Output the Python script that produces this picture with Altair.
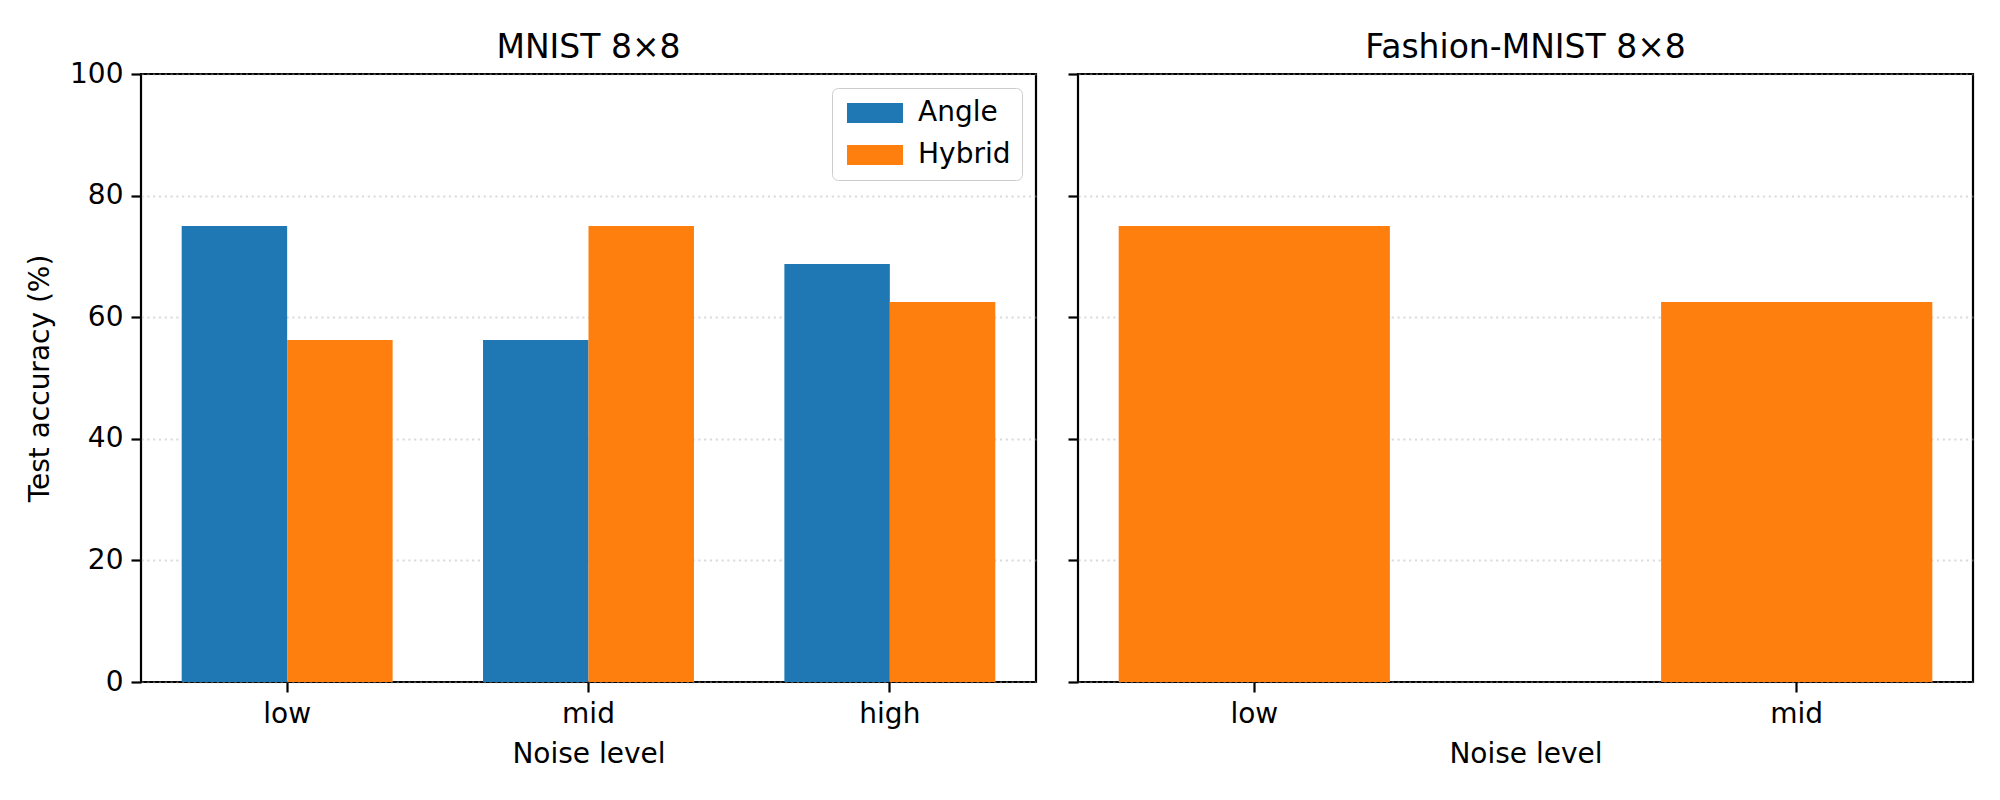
import altair as alt
import pandas as pd

# ---- data ----
levels_mnist = ["low", "mid", "high"]
angle_mnist = [75.0, 56.25, 68.75]
hybrid_mnist = [56.25, 75.0, 62.5]

levels_fashion = ["low", "mid"]
hybrid_fashion = [75.0, 62.5]

series = ["Angle", "Hybrid"]
series_colors = ["#1f77b4", "#ff7f0e"]
y_ticks = [0, 20, 40, 60, 80, 100]

df_m = pd.DataFrame({
    "level": levels_mnist * 2,
    "method": ["Angle"] * len(levels_mnist) + ["Hybrid"] * len(levels_mnist),
    "acc": angle_mnist + hybrid_mnist,
})
df_f = pd.DataFrame({
    "level": levels_fashion,
    "method": ["Hybrid"] * len(levels_fashion),
    "acc": hybrid_fashion,
})

FONT = "DejaVu Sans"
W, H = 895, 608
color_scale = alt.Scale(domain=series, range=series_colors)
y_scale = alt.Scale(domain=[0, 100], nice=False)

left = alt.Chart(df_m, title=alt.Title("MNIST 8×8", offset=-5)).mark_bar().encode(
    x=alt.X("level:N", sort=levels_mnist,
            scale=alt.Scale(paddingInner=0.3, paddingOuter=0.135),
            axis=alt.Axis(title="Noise level", labelAngle=0, grid=False)),
    xOffset=alt.XOffset("method:N", sort=series,
                        scale=alt.Scale(paddingInner=0, paddingOuter=0)),
    y=alt.Y("acc:Q", scale=y_scale,
            axis=alt.Axis(values=y_ticks, title="Test accuracy (%)", grid=True)),
    color=alt.Color("method:N", scale=color_scale, legend=alt.Legend(
        title=None, orient="none", legendX=691, legendY=14,
        symbolType="M-1,-1H4.6V1H-1Z", symbolSize=400, symbolStrokeWidth=0,
        symbolOpacity=1, labelOffset=47, labelFontSize=28, labelFont=FONT,
        labelColor="black", padding=11, rowPadding=14,
        strokeColor="#cccccc", fillColor="rgba(255,255,255,0.8)",
        cornerRadius=6)),
).properties(width=W, height=H)

right = alt.Chart(df_f, title=alt.Title("Fashion-MNIST 8×8", offset=8)).mark_bar().encode(
    x=alt.X("level:N", sort=levels_fashion,
            scale=alt.Scale(paddingInner=0.5, paddingOuter=0.075),
            axis=alt.Axis(title="Noise level", labelAngle=0, grid=False)),
    y=alt.Y("acc:Q", scale=y_scale,
            axis=alt.Axis(values=y_ticks, title=None, labels=False, grid=True)),
    color=alt.Color("method:N", scale=color_scale, legend=None),
).properties(width=W, height=H)

chart = alt.hconcat(left, right, spacing=27).resolve_scale(
    color="independent"
).configure_view(
    stroke="black", strokeWidth=2.2
).configure_axis(
    labelFont=FONT, titleFont=FONT, labelFontSize=28, titleFontSize=28,
    labelColor="black", titleColor="black", titleFontWeight="normal",
    tickColor="black", tickWidth=2.2, tickSize=10, labelPadding=8,
    domain=False, gridColor="#b0b0b0", gridOpacity=0.45,
    gridDash=[2.2, 3.6], gridWidth=2.2,
).configure_axisY(
    titlePadding=15
).configure_axisX(
    titlePadding=12
).configure_title(
    font=FONT, fontSize=33, fontWeight="normal", color="black"
).properties(
    padding={"left": 17, "top": 22, "right": 5, "bottom": 5},
    background="white",
)

chart.save("out.html", embed_options={"renderer": "svg", "actions": False})
